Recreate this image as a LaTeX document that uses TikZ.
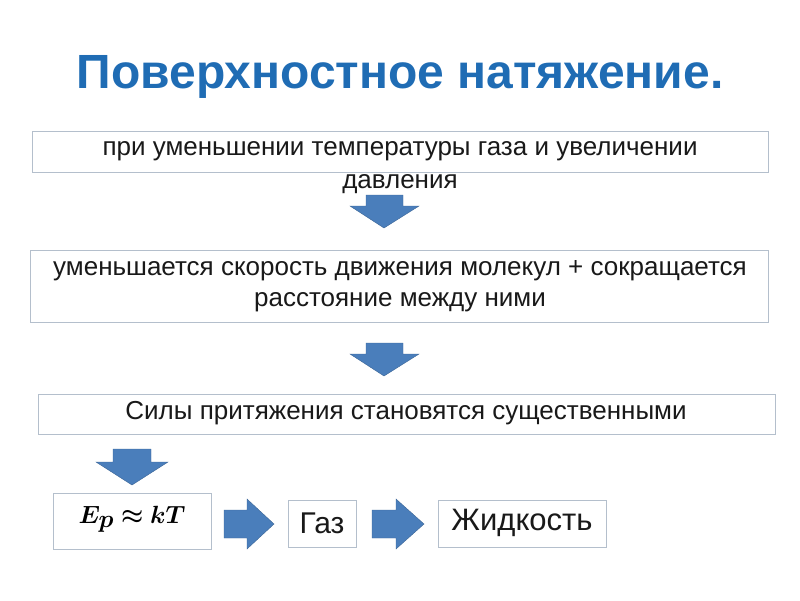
\documentclass[tikz,border=0pt]{standalone}
\usepackage{fontspec}
\setmainfont{Liberation Sans}
\usepackage{amsmath}
\usepackage{bm}
\definecolor{ttl}{HTML}{1F6CB4}
\definecolor{arr}{HTML}{4A7EBB}
\definecolor{bord}{HTML}{B4BFCC}
\newcommand{\formula}{\ensuremath{\bm{E_p\approx kT}}}
\begin{document}
\begin{tikzpicture}[x=1pt,y=-1pt,
  box/.style={draw=bord,line width=1pt,fill=white},
  txt/.style={font=\fontsize{26}{31}\selectfont,align=center,text=black!90,inner sep=0pt},
  darr/.style={fill=arr,draw=arr!80!black,line width=0.4pt},
]
\useasboundingbox (0,0) rectangle (800,600);
\node[font=\fontsize{48}{54}\selectfont\bfseries,text=ttl] (title) at (400,77) {Поверхностное натяжение.};
% box 1
\draw[box] (32,131) rectangle (768,172);
\node[txt,font=\fontsize{26}{33}\selectfont] (t1) at (400,168) {при уменьшении температуры газа и увеличении\\давления};
% down arrow 1
\fill[darr] (366,195) -- (403,195) -- (403,206) -- (419,206) -- (384,228) -- (350,206) -- (366,206) -- cycle;
% box 2
\draw[box] (30,250) rectangle (768,322);
\node[txt] (t2) at (400,286) {уменьшается скорость движения молекул + сокращается\\расстояние между ними};
% arrow 2
\fill[darr] (366,343) -- (403,343) -- (403,354) -- (419,354) -- (384,376) -- (350,354) -- (366,354) -- cycle;
% box 3
\draw[box] (38,394) rectangle (775,434);
\node[txt] (t3) at (406,413) {Силы притяжения становятся существенными};
% arrow 3
\fill[darr] (113,449) -- (151,449) -- (151,462) -- (168,462) -- (132,485) -- (96,462) -- (113,462) -- cycle;
% formula box
\draw[box] (53,493) rectangle (211,549);
\node[font=\fontsize{48}{54}\selectfont,inner sep=0pt] (form) at (132,519) {\formula};
% right arrow 1
\fill[darr] (224,510) -- (247,510) -- (247,499) -- (274,524) -- (247,549) -- (247,538) -- (224,538) -- cycle;
\draw[box] (288,500) rectangle (356,547);
\node[txt,font=\fontsize{30}{34}\selectfont] (g) at (322,523) {Газ};
% right arrow 2
\fill[darr] (372,510) -- (396,510) -- (396,499) -- (424,524) -- (396,549) -- (396,538) -- (372,538) -- cycle;
\draw[box] (438,500) rectangle (606,547);
\node[txt,font=\fontsize{31}{34}\selectfont] (zh) at (522,523) {Жидкость};
\end{tikzpicture}
\end{document}
